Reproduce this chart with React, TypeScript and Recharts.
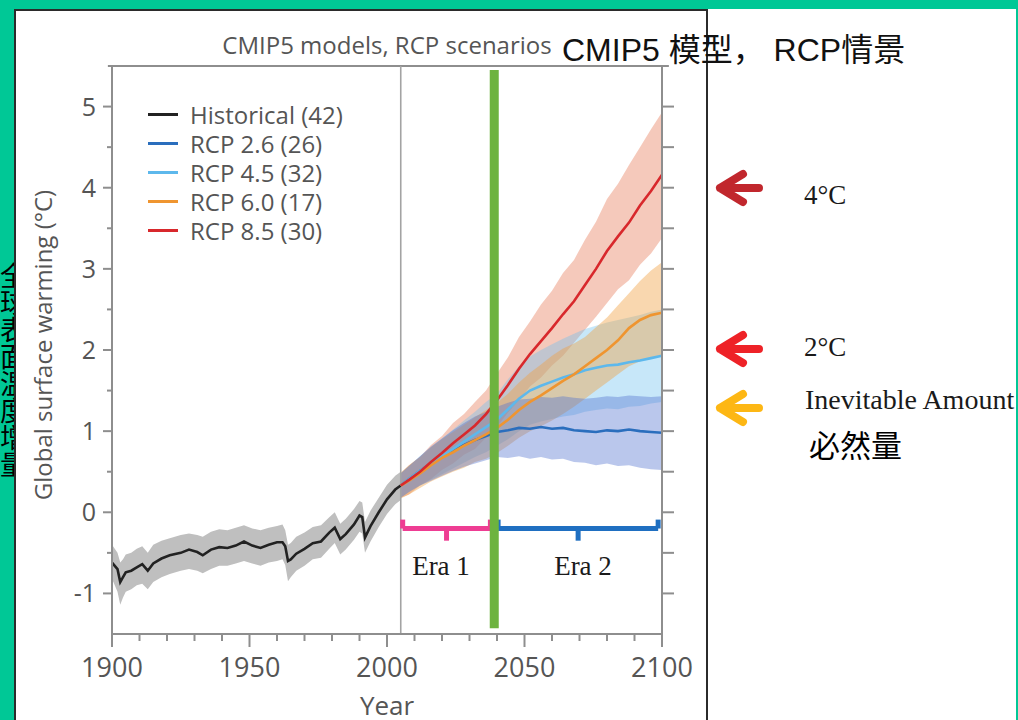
import React from 'react';
import { ComposedChart, Line, Area, XAxis, YAxis, ReferenceLine } from 'recharts';

// ---------- data ----------
const histYears = [1900,1901,1902,1903,1904,1905,1907,1909,1911,1913,1915,1918,1921,1925,1928,1931,1933,1936,1939,1942,1945,1948,1951,1954,1957,1960,1962,1963,1964,1965,1967,1970,1973,1976,1979,1981,1983,1985,1988,1990,1991,1992,1994,1997,2000,2003,2005];
const histMean = [-0.62,-0.66,-0.70,-0.86,-0.80,-0.74,-0.72,-0.68,-0.64,-0.72,-0.63,-0.57,-0.53,-0.50,-0.46,-0.49,-0.53,-0.46,-0.43,-0.44,-0.41,-0.36,-0.41,-0.44,-0.40,-0.37,-0.37,-0.42,-0.60,-0.58,-0.51,-0.45,-0.38,-0.36,-0.25,-0.19,-0.33,-0.27,-0.15,-0.04,-0.06,-0.31,-0.17,0.00,0.16,0.28,0.33];
const histLow = [-0.82,-0.90,-0.98,-1.14,-1.05,-0.98,-0.95,-0.90,-0.88,-0.95,-0.86,-0.80,-0.76,-0.72,-0.70,-0.72,-0.75,-0.70,-0.66,-0.66,-0.63,-0.60,-0.63,-0.66,-0.62,-0.60,-0.58,-0.65,-0.85,-0.80,-0.72,-0.66,-0.58,-0.56,-0.45,-0.38,-0.52,-0.46,-0.34,-0.24,-0.26,-0.50,-0.36,-0.18,-0.02,0.10,0.15];
const histHigh = [-0.40,-0.45,-0.50,-0.62,-0.58,-0.52,-0.50,-0.45,-0.42,-0.50,-0.40,-0.35,-0.32,-0.28,-0.26,-0.28,-0.30,-0.24,-0.21,-0.22,-0.19,-0.16,-0.20,-0.22,-0.19,-0.17,-0.15,-0.22,-0.40,-0.38,-0.30,-0.25,-0.18,-0.16,-0.06,0.00,-0.14,-0.08,0.04,0.14,0.12,-0.12,0.02,0.18,0.34,0.45,0.50];

const futYears = [2005,2008,2012,2016,2020,2024,2028,2032,2036,2040,2044,2048,2052,2056,2060,2064,2068,2072,2076,2080,2084,2088,2092,2096,2100];

const rcp85Mean = [0.33,0.40,0.50,0.62,0.73,0.85,0.96,1.07,1.21,1.38,1.57,1.77,1.95,2.11,2.27,2.44,2.60,2.80,3.00,3.22,3.40,3.57,3.78,3.96,4.16];
const rcp85Low = [0.18,0.22,0.33,0.41,0.52,0.60,0.71,0.78,0.92,1.05,1.23,1.38,1.55,1.66,1.81,1.93,2.09,2.25,2.41,2.58,2.75,2.86,3.05,3.19,3.38];
const rcp85High = [0.48,0.58,0.68,0.83,0.94,1.10,1.21,1.36,1.50,1.71,1.91,2.16,2.35,2.56,2.73,2.95,3.11,3.36,3.58,3.86,4.05,4.28,4.50,4.72,4.93];

const rcp60Mean = [0.33,0.39,0.48,0.58,0.67,0.74,0.82,0.89,0.96,1.04,1.14,1.26,1.36,1.44,1.53,1.62,1.70,1.80,1.90,2.00,2.12,2.27,2.37,2.43,2.46];
const rcp60Low = [0.17,0.22,0.30,0.38,0.44,0.50,0.55,0.62,0.66,0.73,0.82,0.92,1.00,1.06,1.13,1.21,1.30,1.40,1.50,1.60,1.70,1.80,1.86,1.90,1.92];
const rcp60High = [0.49,0.58,0.68,0.80,0.90,0.99,1.08,1.17,1.26,1.35,1.46,1.60,1.72,1.82,1.93,2.02,2.08,2.16,2.28,2.40,2.55,2.70,2.85,2.98,3.08];

const rcp45Mean = [0.33,0.41,0.51,0.60,0.69,0.78,0.87,0.96,1.05,1.14,1.27,1.40,1.50,1.56,1.61,1.66,1.70,1.75,1.78,1.81,1.82,1.85,1.87,1.90,1.93];
const rcp45Low = [0.18,0.25,0.33,0.40,0.47,0.54,0.61,0.68,0.74,0.82,0.90,1.00,1.08,1.12,1.15,1.18,1.20,1.24,1.26,1.28,1.27,1.30,1.31,1.34,1.36];
const rcp45High = [0.48,0.57,0.69,0.80,0.91,1.02,1.13,1.24,1.36,1.46,1.64,1.80,1.92,2.00,2.07,2.14,2.20,2.26,2.30,2.34,2.37,2.40,2.43,2.47,2.50];

const rcp26Mean = [0.33,0.41,0.51,0.60,0.68,0.76,0.83,0.89,0.94,0.99,1.01,1.04,1.03,1.05,1.03,1.04,1.01,1.00,0.99,1.01,1.00,1.02,1.00,0.99,0.98];
const rcp26Low = [0.18,0.25,0.33,0.39,0.45,0.51,0.56,0.60,0.64,0.68,0.67,0.69,0.66,0.68,0.65,0.66,0.62,0.61,0.58,0.60,0.57,0.58,0.55,0.53,0.52];
const rcp26High = [0.48,0.57,0.69,0.81,0.91,1.01,1.10,1.18,1.24,1.30,1.35,1.39,1.40,1.42,1.41,1.43,1.41,1.40,1.41,1.43,1.42,1.44,1.43,1.42,1.43];

const xTicks = [1900,1910,1920,1930,1940,1950,1960,1970,1980,1990,2000,2010,2020,2030,2040,2050,2060,2070,2080,2090,2100];
const yTicks = [-1,-0.5,0,0.5,1,1.5,2,2.5,3,3.5,4,4.5,5];

const legendLabels = ['Historical (42)','RCP 2.6 (26)','RCP 4.5 (32)','RCP 6.0 (17)','RCP 8.5 (30)'];
const legendColors = ['#222222','#2a6ebd','#5db8ec','#ef9530','#d8282c'];

const divideYear = 2005;
const markerYear = 2039;
const era1 = [2005.7, 2037.6];
const era2 = [2040.4, 2098.6];
const bracketY = -0.2;
const bracketTop = -0.09;
const bracketTip = -0.35;

// ---------- build table ----------
function buildRows() {
  const map = new Map<number, any>();
  const get = (y: number) => {
    if (!map.has(y)) map.set(y, { year: y });
    return map.get(y);
  };
  histYears.forEach((y, i) => {
    const r = get(y);
    r.hist = histMean[i];
    r.histBand = [histLow[i], histHigh[i]];
  });
  futYears.forEach((y, i) => {
    const r = get(y);
    r.r26 = rcp26Mean[i]; r.r26Band = [rcp26Low[i], rcp26High[i]];
    r.r45 = rcp45Mean[i]; r.r45Band = [rcp45Low[i], rcp45High[i]];
    r.r60 = rcp60Mean[i]; r.r60Band = [rcp60Low[i], rcp60High[i]];
    r.r85 = rcp85Mean[i]; r.r85Band = [rcp85Low[i], rcp85High[i]];
  });
  return Array.from(map.values()).sort((a, b) => a.year - b.year);
}
const rows = buildRows();

const AXIS = '#8e8e8e';
const TXT = '#555555';
const SANS = '"Open Sans", "Noto Sans", sans-serif';
const SERIF = '"Liberation Serif", "DejaVu Serif", serif';
const CJK = '"Liberation Sans", "Noto Sans CJK SC", sans-serif';

const XTick = (props: any) => {
  const { x, y, payload } = props;
  const v = payload.value;
  const major = v % 50 === 0;
  return (
    <g>
      <line x1={x} y1={y} x2={x} y2={y + (major ? 13 : 7)} stroke={AXIS} strokeWidth={2} />
      {major && (
        <text x={x} y={y + 43} textAnchor="middle" fontSize={27} fill={TXT} fontFamily={SANS}>
          {v}
        </text>
      )}
    </g>
  );
};

const YTick = (props: any) => {
  const { x, y, payload } = props;
  const v = payload.value;
  const major = Number.isInteger(v);
  return (
    <g>
      <line x1={x - (major ? 9 : 5)} y1={y} x2={x} y2={y} stroke={AXIS} strokeWidth={2} />
      {major && (
        <text x={x - 16} y={y + 9} textAnchor="end" fontSize={25} fill={TXT} fontFamily={SANS}>
          {String(v)}
        </text>
      )}
    </g>
  );
};

const RTick = (props: any) => {
  const { x, y } = props;
  return <line x1={x} y1={y} x2={x + 12} y2={y} stroke={AXIS} strokeWidth={2} />;
};

const Arrow = ({ color, top }: { color: string; top: number }) => (
  <svg style={{ position: 'absolute', left: 712, top: top - 20 }} width={56} height={40}>
    <path d="M 31 6 L 8 20 L 31 34 M 8 20 L 47 20" fill="none" stroke={color} strokeWidth={8} strokeLinecap="round" strokeLinejoin="round" />
  </svg>
);

export default function App() {
  return (
    <div style={{ position: 'absolute', left: 0, top: 0, width: 1018, height: 720, overflow: 'hidden', background: '#00c896' }}>
      {/* left vertical caption (mostly hidden) */}
      <div style={{ position: 'absolute', left: -1, top: 262, writingMode: 'vertical-rl', fontFamily: '"Noto Sans CJK SC", sans-serif', fontSize: 27, lineHeight: '28px', color: '#000' }}>
        全球表面温度增量
      </div>
      {/* image panel */}
      <div style={{ position: 'absolute', left: 14, top: 9, width: 694, height: 720, background: '#fff', borderTop: '2px solid #2b2b2b', borderLeft: '2px solid #2b2b2b', borderRight: '2px solid #2b2b2b', boxSizing: 'border-box' }} />
      {/* right white region */}
      <div style={{ position: 'absolute', left: 708, top: 9, width: 308, height: 711, background: '#fff' }} />

      {/* chart title */}
      <div style={{ position: 'absolute', left: 0, width: 774, top: 28, textAlign: 'center', fontFamily: SANS, fontSize: 24, color: TXT, whiteSpace: 'nowrap' }}>
        CMIP5 models, RCP scenarios
      </div>

      <div style={{ position: 'absolute', left: 0, top: 0 }}>
        <ComposedChart width={706} height={720} data={rows} margin={{ top: 66, right: 24, bottom: 46, left: 52 }}>
          <XAxis dataKey="year" type="number" domain={[1900, 2100]} ticks={xTicks} interval={0} tickSize={0} tickMargin={0} tickLine={false} tick={<XTick />} axisLine={{ stroke: AXIS, strokeWidth: 2 }} height={40} allowDataOverflow />
          <YAxis type="number" domain={[-1.5, 5.5]} ticks={yTicks} interval={0} tickSize={0} tickMargin={0} tickLine={false} tick={<YTick />} axisLine={{ stroke: AXIS, strokeWidth: 2 }} width={60} allowDataOverflow />
          <YAxis yAxisId="r" orientation="right" type="number" domain={[-1.5, 5.5]} ticks={yTicks} interval={0} tickSize={0} tickMargin={0} tickLine={false} tick={<RTick />} axisLine={{ stroke: AXIS, strokeWidth: 2 }} width={20} allowDataOverflow />

          <ReferenceLine segment={[{ x: 1898.5, y: 5.5 }, { x: 2102.5, y: 5.5 }]} stroke={AXIS} strokeWidth={2} ifOverflow="visible" />
          <ReferenceLine x={divideYear} stroke="#a3a3a3" strokeWidth={1.6} />

          <Area dataKey="histBand" type="linear" stroke="none" fill="#bfbfbf" fillOpacity={1} isAnimationActive={false} />
          <Area dataKey="r85Band" type="linear" stroke="none" fill="#e88868" fillOpacity={0.45} isAnimationActive={false} />
          <Area dataKey="r45Band" type="linear" stroke="none" fill="#6cc0f0" fillOpacity={0.38} isAnimationActive={false} />
          <Area dataKey="r60Band" type="linear" stroke="none" fill="#f0a040" fillOpacity={0.42} isAnimationActive={false} />
          <Area dataKey="r26Band" type="linear" stroke="none" fill="#5373d0" fillOpacity={0.4} isAnimationActive={false} />

          <Line dataKey="hist" type="linear" stroke={legendColors[0]} strokeWidth={2.6} dot={false} isAnimationActive={false} />
          <Line dataKey="r26" type="linear" stroke={legendColors[1]} strokeWidth={2.6} dot={false} isAnimationActive={false} />
          <Line dataKey="r45" type="linear" stroke={legendColors[2]} strokeWidth={2.6} dot={false} isAnimationActive={false} />
          <Line dataKey="r60" type="linear" stroke={legendColors[3]} strokeWidth={2.6} dot={false} isAnimationActive={false} />
          <Line dataKey="r85" type="linear" stroke={legendColors[4]} strokeWidth={2.6} dot={false} isAnimationActive={false} />

          {/* Era brackets */}
          <ReferenceLine segment={[{ x: era1[0], y: bracketY }, { x: era1[1], y: bracketY }]} stroke="#ee3d93" strokeWidth={5} />
          <ReferenceLine segment={[{ x: era1[0], y: bracketY }, { x: era1[0], y: bracketTop }]} stroke="#ee3d93" strokeWidth={5} />
          <ReferenceLine segment={[{ x: era1[1], y: bracketY }, { x: era1[1], y: bracketTop }]} stroke="#ee3d93" strokeWidth={5} />
          <ReferenceLine segment={[{ x: (era1[0] + era1[1]) / 2, y: bracketY }, { x: (era1[0] + era1[1]) / 2, y: bracketTip }]} stroke="#ee3d93" strokeWidth={5} />
          <ReferenceLine segment={[{ x: era2[0], y: bracketY }, { x: era2[1], y: bracketY }]} stroke="#1f6fc1" strokeWidth={5} />
          <ReferenceLine segment={[{ x: era2[0], y: bracketY }, { x: era2[0], y: bracketTop }]} stroke="#1f6fc1" strokeWidth={5} />
          <ReferenceLine segment={[{ x: era2[1], y: bracketY }, { x: era2[1], y: bracketTop }]} stroke="#1f6fc1" strokeWidth={5} />
          <ReferenceLine segment={[{ x: (era2[0] + era2[1]) / 2, y: bracketY }, { x: (era2[0] + era2[1]) / 2, y: bracketTip }]} stroke="#1f6fc1" strokeWidth={5} />

          {/* green marker */}
          <ReferenceLine segment={[{ x: markerYear, y: -1.43 }, { x: markerYear, y: 5.45 }]} stroke="#6db33f" strokeWidth={9} />
        </ComposedChart>
      </div>

      {/* legend */}
      <div style={{ position: 'absolute', left: 148, top: 100, fontFamily: SANS, fontSize: 24, color: TXT }}>
        {legendLabels.map((lab, i) => (
          <div key={lab} style={{ height: 29, lineHeight: '29px', display: 'flex', alignItems: 'center', whiteSpace: 'nowrap' }}>
            <span style={{ display: 'inline-block', width: 30, height: 3, background: legendColors[i], marginRight: 12 }} />
            <span style={{ lineHeight: '24px' }}>{lab}</span>
          </div>
        ))}
      </div>

      {/* y axis title */}
      <div style={{ position: 'absolute', left: 42, top: 345, transform: 'translate(-50%, -50%) rotate(-90deg)', fontFamily: SANS, fontSize: 24, color: TXT, whiteSpace: 'nowrap' }}>
        Global surface warming (°C)
      </div>
      {/* x axis title */}
      <div style={{ position: 'absolute', left: 387, top: 705, transform: 'translate(-50%, -50%)', fontFamily: SANS, fontSize: 26, lineHeight: '28px', color: TXT, whiteSpace: 'nowrap' }}>
        Year
      </div>

      {/* era labels */}
      <div style={{ position: 'absolute', left: 441, top: 566, transform: 'translate(-50%, -50%)', fontFamily: SERIF, fontSize: 27, color: '#1a1a1a', whiteSpace: 'nowrap' }}>Era 1</div>
      <div style={{ position: 'absolute', left: 583, top: 566, transform: 'translate(-50%, -50%)', fontFamily: SERIF, fontSize: 27, color: '#1a1a1a', whiteSpace: 'nowrap' }}>Era 2</div>

      {/* overlay title (Chinese) */}
      <div style={{ position: 'absolute', left: 562, top: 47, transform: 'translateY(-50%)', fontFamily: CJK, fontSize: 32, color: '#111', whiteSpace: 'nowrap' }}>
        CMIP5 模型， RCP情景
      </div>

      {/* right annotations */}
      <Arrow color="#c1272d" top={188} />
      <Arrow color="#ee2227" top={349} />
      <Arrow color="#fdb714" top={408} />
      <div style={{ position: 'absolute', left: 804, top: 195, transform: 'translateY(-50%)', fontFamily: SERIF, fontSize: 27, color: '#1a1a1a', whiteSpace: 'nowrap' }}>4°C</div>
      <div style={{ position: 'absolute', left: 804, top: 347, transform: 'translateY(-50%)', fontFamily: SERIF, fontSize: 27, color: '#1a1a1a', whiteSpace: 'nowrap' }}>2°C</div>
      <div style={{ position: 'absolute', left: 805, top: 400, transform: 'translateY(-50%)', fontFamily: SERIF, fontSize: 28, color: '#1a1a1a', whiteSpace: 'nowrap' }}>Inevitable Amount</div>
      <div style={{ position: 'absolute', left: 809, top: 443, transform: 'translateY(-50%)', fontFamily: '"Noto Sans CJK SC", sans-serif', fontSize: 31, fontWeight: 400, color: '#000', whiteSpace: 'nowrap' }}>必然量</div>

      {/* right green edge */}
      <div style={{ position: 'absolute', left: 1016, top: 0, width: 2, height: 720, background: '#00c896' }} />
    </div>
  );
}
